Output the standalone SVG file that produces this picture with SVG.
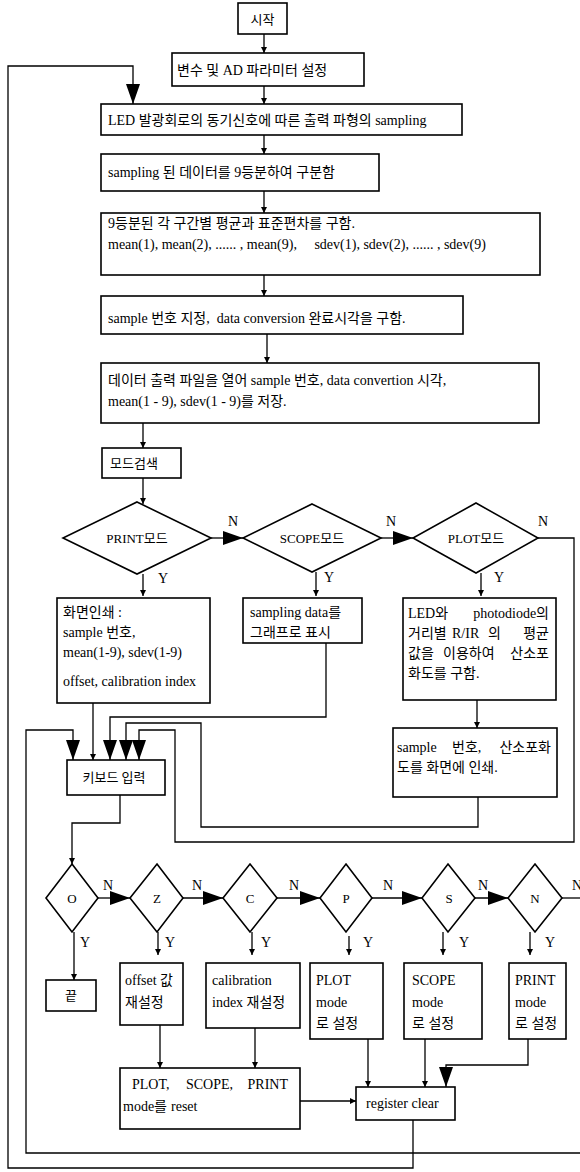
<svg xmlns="http://www.w3.org/2000/svg" width="580" height="1172" viewBox="0 0 580 1172">
<style>
.b{fill:#fff;stroke:#000;stroke-width:1.6}
.c{fill:none;stroke:#000;stroke-width:1.3}
.t{font-family:"Liberation Serif","Noto Sans CJK KR",serif;font-size:14px;fill:#000}
.s{font-size:13px}
.m{text-anchor:middle}
.e{text-anchor:end}
</style>
<defs>
<marker id="big" viewBox="0 0 20 14" refX="20" refY="7" markerWidth="20" markerHeight="14" markerUnits="userSpaceOnUse" orient="auto"><path d="M0,0L20,7L0,14z"/></marker>
<marker id="sm" viewBox="0 0 6 6" refX="6" refY="3" markerWidth="6" markerHeight="6" markerUnits="userSpaceOnUse" orient="auto"><path d="M0,0L6,3L0,6z"/></marker>
</defs>
<rect width="580" height="1172" fill="#fff"/>

<g id="connectors" class="c">
<path d="M264,34V53" marker-end="url(#sm)"/>
<path d="M264,86V104" marker-end="url(#sm)"/>
<path d="M264,135V154" marker-end="url(#sm)"/>
<path d="M264,191V213" marker-end="url(#sm)"/>
<path d="M264,275V296" marker-end="url(#sm)"/>
<path d="M267,334V363" marker-end="url(#sm)"/>
<path d="M143,423V448" marker-end="url(#sm)"/>
<path d="M143,478V504" marker-end="url(#sm)"/>
<path d="M413,1120V1168H8V66H133V104" marker-end="url(#big)"/>
<path d="M211,538H243" marker-end="url(#big)"/>
<path d="M381,538H413" marker-end="url(#big)"/>
<path d="M538,538H574V842H175V730H139V760" marker-end="url(#big)"/>
<path d="M143,574V596" marker-end="url(#sm)"/>
<path d="M316,572V596" marker-end="url(#sm)"/>
<path d="M481,573V596" marker-end="url(#sm)"/>
<path d="M93,703V760" marker-end="url(#sm)"/>
<path d="M326,643V717H110V760" marker-end="url(#big)"/>
<path d="M477,700V728" marker-end="url(#sm)"/>
<path d="M478,797V827H201V723H126V760" marker-end="url(#big)"/>
<path d="M580,1153H26V730H73V760" marker-end="url(#big)"/>
<path d="M120,795V823H72V864" marker-end="url(#sm)"/>
<path d="M98,898H130" marker-end="url(#big)"/>
<path d="M183,898H223" marker-end="url(#big)"/>
<path d="M277,898H320" marker-end="url(#big)"/>
<path d="M372,898H422" marker-end="url(#big)"/>
<path d="M475,898H508" marker-end="url(#big)"/>
<path d="M562,898H580"/>
<path d="M74,932V980" marker-end="url(#sm)"/>
<path d="M158,932V955" marker-end="url(#sm)"/>
<path d="M252,932V955" marker-end="url(#sm)"/>
<path d="M349,936V955" marker-end="url(#sm)"/>
<path d="M443,932V955" marker-end="url(#sm)"/>
<path d="M530,932V955" marker-end="url(#sm)"/>
<path d="M160,1025V1068" marker-end="url(#sm)"/>
<path d="M255,1028V1068" marker-end="url(#sm)"/>
<path d="M368,1039V1087" marker-end="url(#sm)"/>
<path d="M425,1039V1087" marker-end="url(#sm)"/>
<path d="M528,1039V1065H446V1087" marker-end="url(#big)"/>
<path d="M300,1101H356" marker-end="url(#sm)"/>
</g>

<g id="labels" class="t">
<text x="228" y="526">N</text>
<text x="386" y="526">N</text>
<text x="538" y="526">N</text>
<text x="158" y="583">Y</text>
<text x="324" y="582">Y</text>
<text x="494" y="582">Y</text>
<text x="108" y="890" class="m">N</text>
<text x="197" y="890" class="m">N</text>
<text x="294" y="890" class="m">N</text>
<text x="388" y="890" class="m">N</text>
<text x="483" y="890" class="m">N</text>
<text x="577" y="890" class="m">N</text>
<text x="85" y="947" class="m">Y</text>
<text x="170" y="947" class="m">Y</text>
<text x="266" y="947" class="m">Y</text>
<text x="368" y="947" class="m">Y</text>
<text x="464" y="947" class="m">Y</text>
<text x="550" y="947" class="m">Y</text>
</g>

<g id="start"><rect class="b" x="238" y="3" width="49" height="31"/><text class="t s m" x="262.5" y="24">시작</text></g>
<g id="params"><rect class="b" x="172" y="53" width="192" height="33"/><text class="t" x="177" y="75">변수 및 AD 파라미터 설정</text></g>
<g id="led"><rect class="b" x="101" y="104" width="361" height="31"/><text class="t" x="108" y="125">LED 발광회로의 동기신호에 따른 출력 파형의 sampling</text></g>
<g id="split"><rect class="b" x="101" y="154" width="278" height="37"/><text class="t" x="108" y="177">sampling 된 데이터를 9등분하여 구분함</text></g>
<g id="stats"><rect class="b" x="101" y="213" width="439" height="62"/><text class="t" x="108" y="228">9등분된 각 구간별 평균과 표준편차를 구함.</text><text class="t" x="108" y="249" xml:space="preserve">mean(1), mean(2), ...... , mean(9),     sdev(1), sdev(2), ...... , sdev(9)</text></g>
<g id="sampleno"><rect class="b" x="101" y="296" width="362" height="38"/><text class="t" x="108" y="323" xml:space="preserve">sample 번호 지정,  data conversion 완료시각을 구함.</text></g>
<g id="save"><rect class="b" x="101" y="363" width="438" height="60"/><text class="t" x="108" y="385">데이터 출력 파일을 열어 sample 번호, data convertion 시각,</text><text class="t" x="108" y="406">mean(1 - 9), sdev(1 - 9)를 저장.</text></g>
<g id="modesearch"><rect class="b" x="102" y="448" width="79" height="30"/><text class="t s" x="110" y="468">모드검색</text></g>

<g id="printmode"><polygon class="b" points="137,502 211,538 137,574 63,538"/><text class="t s m" x="137" y="543">PRINT모드</text></g>
<g id="scopemode"><polygon class="b" points="312,504 381,538 312,572 243,538"/><text class="t s m" x="312" y="543">SCOPE모드</text></g>
<g id="plotmode"><polygon class="b" points="476,503 538,538 476,573 413,538"/><text class="t s m" x="476" y="543">PLOT모드</text></g>

<g id="printout"><rect class="b" x="57" y="598" width="153" height="105"/><text class="t" x="63" y="617">화면인쇄 :</text><text class="t" x="63" y="637">sample 번호,</text><text class="t" x="63" y="657">mean(1-9), sdev(1-9)</text><text class="t" x="63" y="686">offset, calibration index</text></g>
<g id="scopeout"><rect class="b" x="243" y="598" width="119" height="45"/><text class="t" x="250" y="617">sampling data를</text><text class="t" x="250" y="637">그래프로 표시</text></g>
<g id="plotout"><rect class="b" x="403" y="598" width="153" height="102"/><text class="t" x="408" y="618">LED와</text><text class="t e" x="549" y="618">photodiode의</text><text class="t" x="408" y="638">거리별</text><text class="t" x="452" y="638">R/IR</text><text class="t" x="488" y="638">의</text><text class="t e" x="549" y="638">평균</text><text class="t" x="408" y="658">값을</text><text class="t" x="443" y="658">이용하여</text><text class="t e" x="549" y="658">산소포</text><text class="t" x="408" y="678">화도를 구함.</text></g>
<g id="satout"><rect class="b" x="393" y="728" width="164" height="69"/><text class="t" x="397" y="752">sample</text><text class="t" x="452" y="752">번호,</text><text class="t e" x="551" y="752">산소포화</text><text class="t" x="397" y="772">도를 화면에 인쇄.</text></g>
<g id="keyinput"><rect class="b" x="67" y="760" width="98" height="35"/><text class="t s m" x="114" y="782">키보드 입력</text></g>

<g id="keyO"><polygon class="b" points="72,864 98,898 72,932 46,898"/><text class="t s m" x="72" y="903">O</text></g>
<g id="keyZ"><polygon class="b" points="157,864 183,898 157,932 130,898"/><text class="t s m" x="157" y="903">Z</text></g>
<g id="keyC"><polygon class="b" points="250,864 277,898 250,932 223,898"/><text class="t s m" x="250" y="903">C</text></g>
<g id="keyP"><polygon class="b" points="346,864 372,898 346,932 320,898"/><text class="t s m" x="346" y="903">P</text></g>
<g id="keyS"><polygon class="b" points="448,864 475,898 448,932 422,898"/><text class="t s m" x="449" y="903">S</text></g>
<g id="keyN"><polygon class="b" points="535,864 562,898 535,932 508,898"/><text class="t s m" x="535" y="903">N</text></g>

<g id="end"><rect class="b" x="46" y="980" width="50" height="31"/><text class="t s m" x="71" y="1000">끝</text></g>
<g id="offset"><rect class="b" x="120" y="963" width="63" height="62"/><text class="t" x="125" y="985">offset 값</text><text class="t" x="125" y="1007">재설정</text></g>
<g id="calib"><rect class="b" x="206" y="963" width="94" height="65"/><text class="t" x="212" y="985">calibration</text><text class="t" x="212" y="1007">index 재설정</text></g>
<g id="plotset"><rect class="b" x="310" y="963" width="73" height="76"/><text class="t" x="316" y="985">PLOT</text><text class="t" x="316" y="1007">mode</text><text class="t" x="316" y="1028">로 설정</text></g>
<g id="scopeset"><rect class="b" x="404" y="963" width="78" height="76"/><text class="t" x="412" y="985">SCOPE</text><text class="t" x="412" y="1007">mode</text><text class="t" x="412" y="1028">로 설정</text></g>
<g id="printset"><rect class="b" x="509" y="963" width="57" height="76"/><text class="t" x="515" y="985">PRINT</text><text class="t" x="515" y="1007">mode</text><text class="t" x="515" y="1028">로 설정</text></g>
<g id="reset"><rect class="b" x="120" y="1068" width="180" height="61"/><text class="t" x="132" y="1089">PLOT,</text><text class="t" x="186" y="1089">SCOPE,</text><text class="t e" x="288" y="1089">PRINT</text><text class="t" x="123" y="1111">mode를</text><text class="t" x="171" y="1111">reset</text></g>
<g id="regclear"><rect class="b" x="356" y="1087" width="99" height="33"/><text class="t" x="366" y="1108">register clear</text></g>
</svg>
